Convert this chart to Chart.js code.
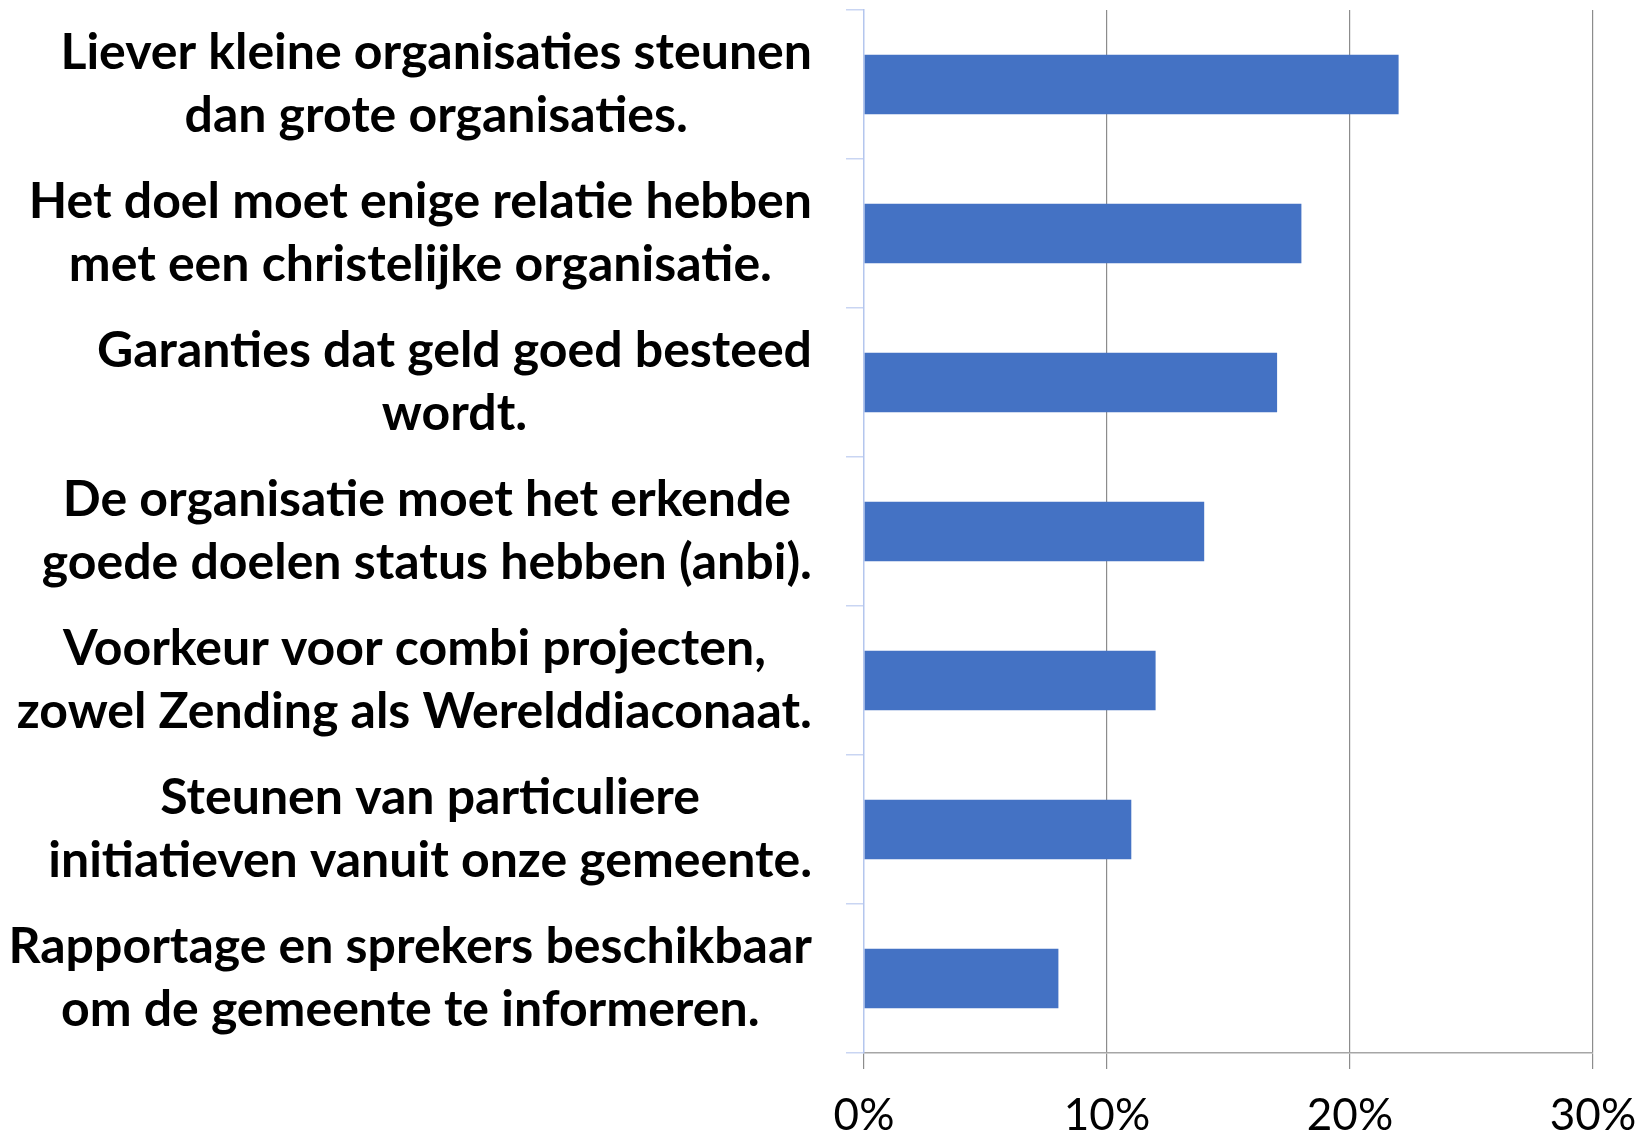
<!DOCTYPE html>
<html>
<head>
<meta charset="utf-8">
<script src="https://cdn.jsdelivr.net/npm/chart.js@4"></script>
<style>
    html, body { margin: 0; padding: 0; background: #fff; }
    #wrap { width: 1648px; height: 1131px; position: relative; }
</style>
</head>
<body>
<div id="wrap"><canvas id="chart"></canvas></div>
<script>
// categories, one array of lines per label (top to bottom)
const categories = [
    ['Liever kleine organisaties steunen', 'dan grote organisaties.'],
    ['Het doel moet enige relatie hebben', 'met een christelijke organisatie.'],
    ['Garanties dat geld goed besteed', 'wordt.'],
    ['De organisatie moet het erkende', 'goede doelen status hebben (anbi).'],
    ['Voorkeur voor combi projecten,', 'zowel Zending als Werelddiaconaat.'],
    ['Steunen van particuliere', 'initiatieven vanuit onze gemeente.'],
    ['Rapportage en sprekers beschikbaar', 'om de gemeente te informeren.']
];
const shares = [22, 18, 17, 14, 12, 11, 8];
const xTicks = [0, 10, 20, 30];

const LABEL_FONT = 'bold 50px Lato';
const LABEL_LINE = 63;
const LABEL_GAP = 52; // from the y axis to the right edge of a label block

// draws the category labels: block right aligned, lines centered inside it
const centeredLabels = {
    id: 'centeredLabels',
    afterDraw(chart) {
        const ctx = chart.ctx;
        const y = chart.scales.y;
        ctx.save();
        ctx.font = LABEL_FONT;
        ctx.fillStyle = '#000';
        ctx.textAlign = 'center';
        ctx.textBaseline = 'middle';
        categories.forEach((lines, i) => {
            const widest = Math.max(...lines.map(l => ctx.measureText(l).width));
            const cx = y.right - LABEL_GAP - widest / 2;
            const cy = y.getPixelForValue(i);
            lines.forEach((l, j) => {
                ctx.fillText(l, cx, cy + (j - (lines.length - 1) / 2) * LABEL_LINE);
            });
        });
        ctx.restore();
    }
};

new Chart(document.getElementById('chart'), {
    type: 'bar',
    data: {
        labels: categories.map(c => c.join(' ')),
        datasets: [{
            data: shares,
            backgroundColor: '#4472C4',
            borderWidth: 0,
            barPercentage: 0.4,
            categoryPercentage: 1
        }]
    },
    options: {
        indexAxis: 'y',
        responsive: true,
        maintainAspectRatio: false,
        animation: false,
        layout: { padding: { top: 10, right: 55, bottom: 0, left: 0 } },
        plugins: { legend: { display: false }, tooltip: { enabled: false } },
        scales: {
            x: {
                min: 0,
                max: 30,
                afterBuildTicks: s => { s.ticks = xTicks.map(v => ({ value: v })); },
                afterFit: s => {
                    s.height = 78;
                    s.paddingLeft = 0;
                    s.paddingRight = 0;
                },
                border: { color: '#a6a6a6', width: 1.5 },
                grid: {
                    color: c => (c.tick && c.tick.value === 0 ? 'rgba(0,0,0,0)' : '#8c8c8c'),
                    tickColor: '#8c8c8c',
                    tickLength: 16,
                    lineWidth: 1.2
                },
                ticks: {
                    color: '#000',
                    font: { family: 'Lato', size: 44 },
                    padding: 20,
                    callback: v => v + '%'
                }
            },
            y: {
                offset: true,
                afterFit: s => { s.width = 864; },
                border: { color: '#b4c6ee', width: 1.5 },
                grid: {
                    offset: true,
                    drawOnChartArea: false,
                    tickColor: '#c9d5f2',
                    tickLength: 18,
                    lineWidth: 1.5
                },
                ticks: { display: false }
            }
        }
    },
    plugins: [centeredLabels]
});
</script>
</body>
</html>
